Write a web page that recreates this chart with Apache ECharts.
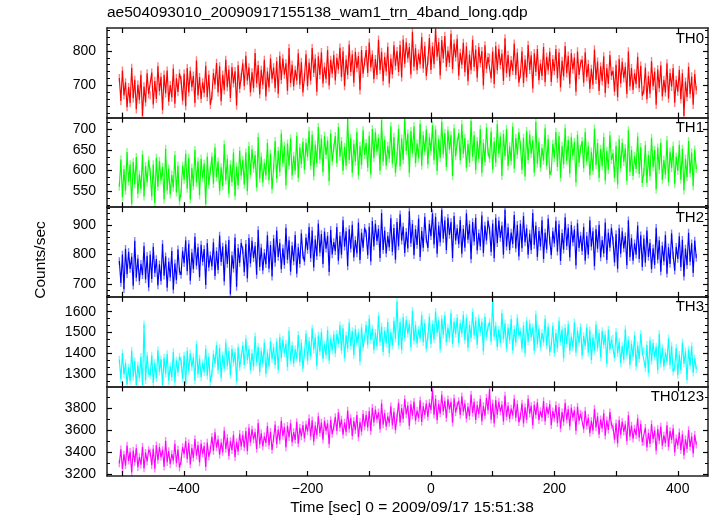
<!DOCTYPE html>
<html>
<head>
<meta charset="utf-8">
<script src="https://cdn.jsdelivr.net/npm/echarts@6/dist/echarts.min.js"></script>
<style>
html,body{margin:0;padding:0;background:#fff;}
#chart{width:717px;height:516px;}
</style>
</head>
<body>
<div id="chart"></div>
<script>
// ---- data ----
const titleText = 'ae504093010_20090917155138_wam1_trn_4band_long.qdp';
const xTitle = 'Time [sec] 0 = 2009/09/17 15:51:38';
const yTitle = 'Counts/sec';
const panelNames = ['TH0', 'TH1', 'TH2', 'TH3', 'TH0123'];
const tStart = -505;   // first time bin (s)
const tStep = 2.5;     // bin width (s)
const xTicks = [-500, -400, -300, -200, -100, 0, 100, 200, 300, 400];
const xLabels = [-400, -200, 0, 200, 400];

const th0Ticks = [700, 800];
const th1Ticks = [550, 600, 650, 700];
const th2Ticks = [700, 800, 900];
const th3Ticks = [1300, 1400, 1500, 1600];
const th4Ticks = [3200, 3400, 3600, 3800];

// typical 1-sigma error of one bin (counts/sec)
const th0Err = 12, th1Err = 10, th2Err = 13, th3Err = 18, th4Err = 34;

const th0 = [
721,655,743,671,709,637,695,649,751,663,716,631,702,659,731,612,697,651,735,675,
671,737,645,713,661,755,683,725,629,731,677,743,653,701,665,749,647,721,681,735,
716,656,734,640,750,680,742,695,728,649,772,671,724,661,709,678,757,666,731,644,
670,736,702,765,680,755,654,731,686,774,695,746,664,753,706,741,642,758,690,724,
764,698,786,714,752,680,738,692,794,706,759,674,745,702,774,668,740,694,778,718,
752,692,770,676,786,716,778,731,764,685,808,707,760,697,745,714,793,702,767,680,
724,790,698,766,714,808,736,778,682,784,730,796,706,754,718,802,700,774,734,788,
714,780,746,809,724,799,698,775,730,818,739,790,708,797,750,785,686,802,734,768,
802,736,824,752,790,718,776,730,832,744,797,712,783,740,812,706,778,732,816,756,
799,739,817,723,833,763,825,778,811,732,855,754,807,744,792,761,840,749,814,727,
771,837,745,813,761,864,783,825,729,831,777,843,753,801,765,849,747,821,781,835,
728,794,760,823,738,813,712,789,744,832,753,804,722,811,764,799,700,816,748,782,
780,720,798,704,814,744,806,759,792,713,836,735,788,725,773,742,821,730,795,708,
733,799,707,775,723,817,745,787,691,793,739,805,715,763,727,811,709,783,743,797,
710,776,742,805,720,795,694,771,726,814,735,786,704,793,746,781,682,798,730,764,
774,708,796,724,762,690,748,702,804,716,769,684,755,712,784,678,750,704,788,728,
742,682,760,666,776,706,768,721,754,675,798,697,750,687,735,704,783,692,757,670,
686,752,660,728,676,770,698,740,644,746,692,758,668,716,680,764,662,736,696,750,
650,716,682,745,660,735,612,711,666,754,675,726,644,733,686];

const th1 = [
561,627,535,603,551,645,573,615,519,621,567,633,543,591,555,639,537,611,571,625,
597,537,615,521,631,561,623,576,609,530,653,552,605,542,590,559,638,547,612,525,
546,612,578,641,556,631,530,607,562,650,571,622,540,629,582,617,518,634,566,600,
634,568,656,584,622,550,608,562,664,576,629,544,615,572,644,538,610,564,648,588,
626,566,644,550,660,590,652,605,638,559,682,581,634,571,619,588,667,576,641,554,
606,672,580,648,596,690,618,660,564,666,612,678,588,636,600,684,582,656,616,670,
602,668,634,697,612,687,586,663,618,706,627,678,596,685,638,673,574,690,622,656,
684,618,706,634,672,600,658,612,726,626,679,594,665,622,694,588,660,614,698,638,
667,607,685,591,701,631,693,646,679,600,723,622,675,612,660,629,708,617,682,595,
636,702,610,678,626,727,648,690,594,696,642,708,618,666,630,714,612,686,646,700,
615,681,647,710,625,700,599,676,631,719,640,691,609,698,651,686,587,703,635,669,
691,625,713,641,679,607,665,619,721,633,686,601,672,629,701,595,667,621,705,645,
629,695,603,671,619,713,641,683,587,689,635,701,611,659,623,707,605,679,639,693,
662,602,680,586,696,626,688,641,674,595,718,617,670,607,655,624,703,612,677,590,
599,665,631,694,609,684,583,660,615,703,624,675,593,682,635,670,571,687,619,653,
672,606,694,622,660,588,646,600,702,614,667,582,653,610,682,576,648,602,686,626,
642,582,660,566,676,606,668,621,654,575,698,597,650,587,635,604,683,592,657,570,
596,662,570,638,586,680,608,650,554,656,602,668,578,626,590,674,572,646,606,660,
568,634,600,663,578,653,552,629,584,672,593,644,562,651,604];

const th2 = [
778,703,800,682,820,733,810,751,793,694,847,721,787,709,769,730,829,715,796,688,
800,717,827,737,785,695,767,710,837,728,794,687,776,722,812,680,770,713,818,743,
731,813,771,849,743,837,711,807,750,861,762,825,723,834,775,819,696,840,756,798,
760,842,727,812,748,865,775,828,708,835,768,850,665,798,752,858,690,823,772,840,
815,740,837,719,857,770,847,788,830,731,884,758,824,746,806,767,866,752,833,725,
855,772,882,792,840,750,822,765,892,783,849,742,831,777,867,735,825,768,873,798,
776,858,816,894,788,882,756,852,795,906,807,870,768,879,820,864,741,885,801,843,
812,894,779,864,800,917,827,880,760,887,820,902,790,850,804,910,782,875,824,892,
873,798,895,777,915,828,905,846,888,789,942,816,882,804,864,825,924,810,891,783,
911,828,938,848,896,806,878,821,948,839,905,798,887,833,923,791,881,824,929,854,
823,905,863,941,835,929,803,899,842,953,854,917,815,926,867,911,788,932,848,890,
836,918,803,888,824,941,851,904,784,911,844,926,814,874,828,934,806,899,848,916,
884,809,906,788,926,839,916,857,899,800,953,827,893,815,875,836,935,821,902,794,
905,822,932,842,890,800,872,815,942,833,899,792,881,827,917,785,875,818,923,848,
798,880,838,916,810,904,778,874,817,928,829,892,790,901,842,886,763,907,823,865,
812,894,779,864,800,917,827,880,760,887,820,902,790,850,804,910,782,875,824,892,
848,773,870,752,890,803,880,821,863,764,917,791,857,779,839,800,899,785,866,758,
855,772,882,792,840,750,822,765,892,783,849,742,831,777,867,735,825,768,873,798,
745,827,785,863,757,851,725,821,764,875,776,839,737,848,789];

const th3 = [
1371,1277,1402,1300,1354,1252,1334,1269,1414,1289,1364,1250,1344,1283,1385,1250,1540,1272,1391,1306,
1296,1390,1259,1356,1282,1415,1313,1373,1250,1381,1304,1398,1270,1339,1287,1407,1262,1367,1310,1386,
1365,1280,1391,1257,1413,1314,1401,1335,1382,1270,1444,1301,1376,1287,1355,1311,1423,1294,1386,1263,
1305,1399,1351,1440,1319,1426,1283,1392,1328,1453,1341,1413,1297,1423,1356,1406,1266,1430,1334,1382,
1439,1345,1470,1368,1422,1320,1402,1337,1482,1357,1432,1311,1412,1351,1453,1303,1405,1340,1459,1374,
1430,1345,1456,1322,1478,1379,1466,1400,1447,1335,1509,1366,1441,1352,1420,1376,1488,1359,1451,1328,
1401,1495,1364,1461,1387,1520,1418,1478,1341,1486,1409,1503,1375,1444,1392,1512,1367,1472,1415,1491,
1400,1494,1446,1535,1414,1521,1378,1487,1423,1548,1436,1508,1392,1518,1451,1501,1361,1525,1429,1477,
1536,1442,1567,1465,1519,1417,1499,1434,1579,1454,1529,1408,1509,1448,1550,1400,1502,1437,1556,1471,
1650,1440,1551,1417,1573,1474,1561,1495,1542,1430,1604,1461,1536,1447,1515,1471,1583,1454,1546,1423,
1481,1575,1444,1541,1467,1600,1498,1558,1421,1566,1489,1583,1455,1524,1472,1592,1447,1552,1495,1571,
1450,1544,1496,1585,1464,1571,1428,1537,1473,1598,1486,1558,1442,1568,1501,1551,1411,1575,1479,1527,
1551,1457,1655,1480,1534,1432,1514,1449,1594,1469,1544,1423,1524,1463,1565,1415,1517,1452,1571,1486,
1508,1423,1534,1400,1556,1457,1544,1478,1525,1413,1587,1444,1519,1430,1498,1454,1566,1437,1529,1406,
1438,1532,1401,1498,1424,1557,1455,1515,1378,1523,1446,1540,1412,1481,1429,1549,1404,1509,1452,1528,
1390,1484,1436,1525,1404,1511,1368,1477,1413,1538,1426,1498,1382,1508,1441,1491,1351,1515,1419,1467,
1473,1379,1504,1402,1456,1354,1436,1371,1516,1391,1466,1345,1446,1385,1487,1337,1439,1374,1493,1408,
1415,1330,1441,1307,1463,1364,1451,1385,1432,1320,1494,1351,1426,1337,1405,1361,1473,1344,1436,1313,
1334,1428,1297,1394,1320,1453,1351,1411,1274,1419,1342,1436,1308,1377,1325];

const th4 = [
3299,3426,3248,3380,3281,3460,3322,3403,3218,3414,3310,3437,3264,3357,3287,3449,3253,3396,3317,3421,
3398,3283,3432,3250,3462,3329,3446,3356,3421,3269,3503,3310,3411,3292,3384,3324,3476,3301,3425,3260,
3319,3446,3382,3501,3338,3483,3290,3437,3349,3520,3368,3464,3308,3478,3388,3455,3267,3487,3359,3423,
3539,3412,3580,3442,3516,3378,3488,3401,3597,3429,3530,3366,3502,3419,3557,3355,3493,3406,3567,3452,
3558,3443,3592,3410,3622,3489,3606,3516,3581,3429,3663,3470,3571,3452,3544,3484,3636,3461,3585,3420,
3524,3651,3473,3605,3506,3685,3547,3628,3443,3639,3535,3662,3489,3582,3512,3674,3478,3621,3542,3646,
3524,3651,3587,3706,3543,3688,3495,3642,3554,3725,3573,3669,3513,3683,3593,3660,3472,3692,3564,3628,
3719,3592,3760,3622,3696,3558,3668,3581,3777,3609,3710,3546,3682,3599,3737,3535,3673,3586,3747,3632,
3738,3623,3772,3590,3802,3669,3786,3696,3761,3609,3843,3650,3751,3632,3724,3664,3816,3641,3765,3600,
3719,3846,3668,3800,3701,3880,3742,3823,3638,3834,3730,3857,3684,3777,3707,3869,3673,3816,3737,3841,
3719,3846,3782,3960,3738,3883,3690,3837,3749,3920,3768,3864,3708,3878,3788,3855,3667,3887,3759,3823,
3864,3737,3905,3767,3841,3703,3813,3726,3922,3754,3855,3691,3827,3744,3882,3680,3818,3731,3892,3777,
3970,3693,3842,3660,3872,3739,3856,3766,3831,3679,3913,3720,3821,3702,3794,3734,3886,3711,3835,3670,
3724,3841,3660,3806,3695,3884,3748,3818,3645,3829,3736,3850,3690,3772,3712,3862,3679,3810,3744,3836,
3644,3771,3707,3826,3663,3808,3615,3762,3674,3845,3693,3789,3633,3803,3713,3780,3592,3812,3684,3748,
3734,3607,3775,3637,3711,3573,3683,3596,3792,3624,3725,3561,3697,3614,3752,3550,3688,3601,3762,3647,
3628,3513,3662,3480,3692,3559,3676,3586,3651,3499,3733,3540,3641,3522,3614,3554,3706,3531,3655,3490,
3494,3621,3443,3575,3476,3655,3517,3598,3413,3609,3505,3632,3459,3552,3482,3644,3448,3591,3512,3616,
3399,3526,3462,3581,3418,3563,3370,3517,3429,3600,3448,3544,3388,3558,3468];

// ---- layout / style ----
const FONT = '"Liberation Sans", Arial, Helvetica, sans-serif';
const AX = '#222';
const panels = [
  {data: th0, err: th0Err, color: '#ff0000', pale: '#ff8080', min: 607,  max: 866,  ticks: th0Ticks, minorDiv: 5},
  {data: th1, err: th1Err, color: '#00ff00', pale: '#80ff80', min: 511,  max: 729,  ticks: th1Ticks, minorDiv: 3},
  {data: th2, err: th2Err, color: '#0000ff', pale: '#8080ff', min: 656,  max: 962,  ticks: th2Ticks, minorDiv: 5},
  {data: th3, err: th3Err, color: '#00ffff', pale: '#80ffff', min: 1243, max: 1671, ticks: th3Ticks, minorDiv: 3},
  {data: th4, err: th4Err, color: '#ff00ff', pale: '#ff80ff', min: 3185, max: 3995, ticks: th4Ticks, minorDiv: 2}
];
const gridLeft = 107, gridRight = 708, gridTop = 28, gridBottom = 476;
const ph = (gridBottom - gridTop) / panels.length;

function minorTicks(p) {
  const step = p.ticks[1] - p.ticks[0];
  const sub = step / p.minorDiv;
  const out = [];
  for (let v = p.ticks[0] - step; v <= p.max + 1e-9; v += sub) {
    if (v >= p.min && !p.ticks.some(t => Math.abs(t - v) < 1e-6)) out.push(v);
  }
  return out;
}

const grids = [], xAxes = [], yAxes = [], series = [], graphics = [];
panels.forEach((p, k) => {
  const top = gridTop + k * ph;
  grids.push({left: gridLeft, width: gridRight - gridLeft, top: top, height: ph, containLabel: false});
  ['bottom', 'top'].forEach(pos => {
    xAxes.push({
      gridIndex: k, type: 'value', position: pos, min: -525, max: 449, z: 10,
      axisLine: {show: true, onZero: false, lineStyle: {color: AX, width: 1.5}},
      axisTick: {show: true, inside: true, length: 5, customValues: xTicks, lineStyle: {color: '#000', width: 1.2}},
      axisLabel: {show: pos === 'bottom' && k === panels.length - 1, customValues: xLabels,
        formatter: v => String(v).replace('-', '\u2212'),
        fontSize: 14, fontFamily: FONT, color: '#000', margin: 6},
      splitLine: {show: false}
    });
  });
  const minors = minorTicks(p);
  ['left', 'right'].forEach(pos => {
    yAxes.push({
      gridIndex: k, type: 'value', position: pos, min: p.min, max: p.max, z: 10,
      axisLine: {show: true, onZero: false, lineStyle: {color: AX, width: 1.5}},
      axisTick: {show: true, inside: true, length: 5, customValues: p.ticks, lineStyle: {color: '#000', width: 1.2}},
      axisLabel: {show: pos === 'left', customValues: p.ticks, formatter: v => String(v),
        fontSize: 14, fontFamily: FONT, color: '#000', margin: 11},
      splitLine: {show: false}
    });
    yAxes.push({
      gridIndex: k, type: 'value', position: pos, min: p.min, max: p.max, z: 10,
      axisLine: {show: false, onZero: false},
      axisTick: {show: true, inside: true, length: 3, customValues: minors, lineStyle: {color: '#000', width: 1}},
      axisLabel: {show: false},
      splitLine: {show: false}
    });
  });
  const pts = p.data.map((v, i) => [tStart + i * tStep, v]);
  // pale error bars
  series.push({
    type: 'custom', xAxisIndex: 2 * k, yAxisIndex: 4 * k, data: pts, silent: true, z: 1,
    clip: true,
    renderItem: (params, api) => {
      const t = api.value(0), v = api.value(1);
      const a = api.coord([t, v - p.err]);
      const b = api.coord([t, v + p.err]);
      return {type: 'line', shape: {x1: a[0], y1: a[1], x2: b[0], y2: b[1]},
        style: {stroke: p.pale, lineWidth: 1.4}};
    }
  });
  series.push({
    type: 'line', xAxisIndex: 2 * k, yAxisIndex: 4 * k, data: pts, symbol: 'none',
    lineStyle: {color: p.color, width: 1.15}, silent: true, z: 2
  });
  graphics.push({
    type: 'text', right: 717 - 704, top: top + 3,
    style: {text: panelNames[k], fontSize: 15, fontFamily: FONT, fill: '#000'}
  });
});

graphics.push({type: 'text', left: gridLeft, top: 5,
  style: {text: titleText, fontSize: 15.5, fontFamily: FONT, fill: '#000'}});
graphics.push({type: 'text', x: 412, y: 508,
  style: {text: xTitle, fontSize: 15.5, fontFamily: FONT, fill: '#000', align: 'center', verticalAlign: 'middle'}});
graphics.push({type: 'text', x: 41, y: 260, rotation: Math.PI / 2,
  style: {text: yTitle, fontSize: 15.5, fontFamily: FONT, fill: '#000', align: 'center', verticalAlign: 'middle'}});

const chart = echarts.init(document.getElementById('chart'), null, {renderer: 'canvas'});
chart.setOption({
  animation: false,
  backgroundColor: '#fff',
  grid: grids, xAxis: xAxes, yAxis: yAxes, series: series,
  graphic: graphics
});
</script>
</body>
</html>
